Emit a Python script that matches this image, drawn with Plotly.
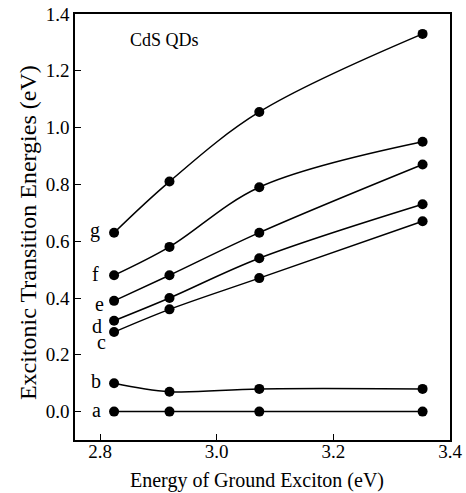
import plotly.graph_objects as go

# Data
ground_exciton = [2.824, 2.919, 3.073, 3.353]
series_names = ["a", "b", "c", "d", "e", "f", "g"]
a_vals = [0.0, 0.0, 0.0, 0.0]
b_vals = [0.10, 0.07, 0.08, 0.08]
c_vals = [0.28, 0.36, 0.47, 0.67]
d_vals = [0.32, 0.40, 0.54, 0.73]
e_vals = [0.39, 0.48, 0.63, 0.87]
f_vals = [0.48, 0.58, 0.79, 0.95]
g_vals = [0.63, 0.81, 1.055, 1.33]
all_vals = [a_vals, b_vals, c_vals, d_vals, e_vals, f_vals, g_vals]
x_ticks = [2.8, 3.0, 3.2, 3.4]
y_ticks = [0.0, 0.2, 0.4, 0.6, 0.8, 1.0, 1.2, 1.4]

# label placement (positions kept separate from data)
label_x = [2.7931, 2.7931, 2.8017, 2.7949, 2.7983, 2.7914, 2.7914]
label_y = [0.005, 0.108, 0.244, 0.302, 0.379, 0.485, 0.638]

FONT = "Liberation Serif"

fig = go.Figure()
for name, vals in zip(series_names, all_vals):
    fig.add_trace(go.Scatter(
        x=ground_exciton, y=vals, mode="lines+markers", name=name,
        line=dict(color="black", width=1.5, shape="spline", smoothing=1.0),
        marker=dict(color="black", size=10, symbol="circle"),
        showlegend=False, cliponaxis=False,
    ))

for name, lx, ly in zip(series_names, label_x, label_y):
    fig.add_annotation(x=lx, y=ly, text=name, showarrow=False,
                       xanchor="center", yanchor="middle",
                       font=dict(family=FONT, size=20, color="black"))

fig.add_annotation(x=2.910, y=1.308, text="CdS QDs", showarrow=False,
                   xanchor="center", yanchor="middle",
                   font=dict(family=FONT, size=18, color="black"))

# axis titles
fig.add_annotation(xref="paper", yref="paper", x=0.485, y=-0.096,
                   text="Energy of Ground Exciton (eV)", showarrow=False,
                   xanchor="center", yanchor="middle",
                   font=dict(family=FONT, size=20, color="black"))
fig.add_annotation(xref="paper", yref="paper", x=-0.125, y=0.486,
                   text="Excitonic Transition Energies (eV)", showarrow=False,
                   xanchor="center", yanchor="middle", textangle=-90,
                   font=dict(family=FONT, size=24, color="black"))

axis_common = dict(
    showgrid=False, zeroline=False, showline=True, linecolor="black",
    linewidth=1.5, mirror=True, ticks="inside", ticklen=6, tickwidth=1.2,
    tickcolor="black", tickfont=dict(family=FONT, size=19, color="black"),
    automargin=False,
)

fig.update_xaxes(range=[2.757, 3.4], tickvals=x_ticks, ticklabelstandoff=-7,
                 ticktext=[f"{v:.1f}" for v in x_ticks], **axis_common)
fig.update_yaxes(range=[-0.1, 1.4], tickvals=y_ticks,
                 ticktext=[f"{v:.1f}" for v in y_ticks], **axis_common)

fig.update_layout(
    width=466, height=493,
    margin=dict(l=75, r=16, t=14, b=53, autoexpand=False),
    paper_bgcolor="white", plot_bgcolor="white",
)

fig.write_html("out.html", config={"displayModeBar": False},
               post_script="document.body.style.margin='0px';"
                           "document.body.style.overflow='hidden';")
